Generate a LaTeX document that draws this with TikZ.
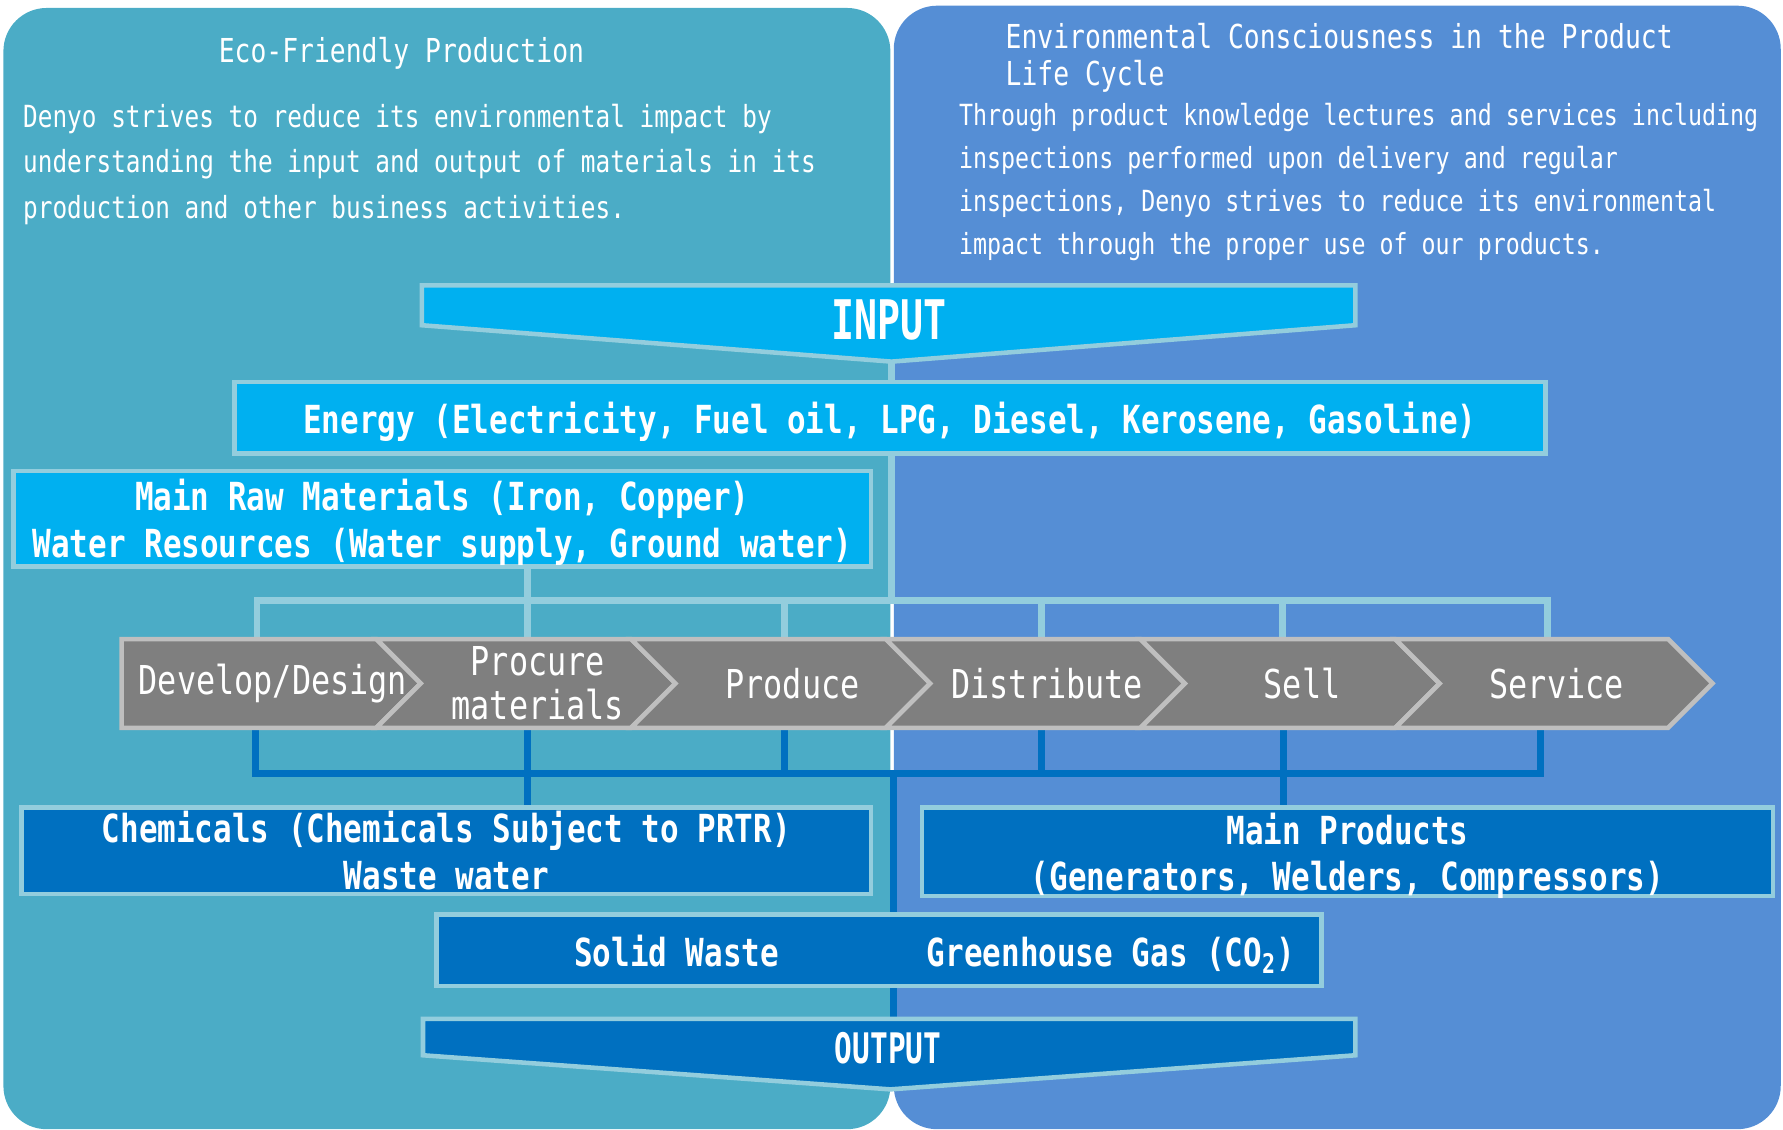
\documentclass[tikz,border=0pt]{standalone}
\usepackage{fontspec}
\newfontfamily\denyofont[FakeStretch=0.8]{DejaVu Sans Mono}
\newfontfamily\tallfont[FakeStretch=0.7]{DejaVu Sans Mono}
\usepackage{xcolor}
\definecolor{ecoteal}{HTML}{4BACC6}
\definecolor{lifeblue}{HTML}{558ED5}
\definecolor{inblue}{HTML}{00B0F0}
\definecolor{outblue}{HTML}{0070C0}
\definecolor{rimblue}{HTML}{93CDDD}
\definecolor{stepgray}{HTML}{7F7F7F}
\definecolor{steprim}{HTML}{BFBFBF}
\pgfdeclarelayer{panel}
\pgfdeclarelayer{link}
\pgfsetlayers{panel,link,main}

\begin{document}
\begin{tikzpicture}[x=0.5pt, y=-0.5pt,
	inbox/.style={draw=rimblue, line width=2pt, fill=inblue, text=white, align=center, inner sep=0pt, text depth=0pt, font=\denyofont\bfseries\fontsize{17}{20.5}\selectfont},
	outbox/.style={inbox, fill=outblue},
	banner/.style={draw=rimblue, line width=2pt, line join=miter},
	stepbox/.style={draw=steprim, line width=2pt, fill=stepgray, line join=miter},
	steplabel/.style={text=white, align=center, inner sep=0pt, font=\denyofont\fontsize{17.5}{19.5}\selectfont},
	boxlabel/.style={text=white, inner sep=0pt, anchor=base, font=\denyofont\bfseries\fontsize{17}{20.5}\selectfont},
	paneltext/.style={text=white, align=left, inner sep=0pt, anchor=north west},
	inlink/.style={draw=rimblue, line width=3pt},
	outlink/.style={draw=outblue, line width=3pt}]
	\useasboundingbox (0,0) rectangle (1568,993);
	
	% two panels
	\begin{pgfonlayer}{panel}
	\fill[ecoteal, rounded corners=19pt] (3,7) rectangle (783,993);
	\fill[lifeblue, rounded corners=19pt] (786,5) rectangle (1566,993);
	\end{pgfonlayer}
	
	\node[text=white, inner sep=0pt, font=\denyofont\fontsize{14.5}{16.5}\selectfont] (ecotitle) at (353,47) {Eco-Friendly Production};
	\node[paneltext, font=\denyofont\fontsize{13.4}{20}\selectfont] (ecobody) at (20,91) {Denyo strives to reduce its environmental impact by\\understanding the input and output of materials in its\\production and other business activities.};
	\node[paneltext, font=\denyofont\fontsize{14.5}{16.5}\selectfont] (lifetitle) at (884,20) {Environmental Consciousness in the Product\\Life Cycle};
	\node[paneltext, font=\denyofont\fontsize{12.8}{19}\selectfont] (lifebody) at (843,90) {Through product knowledge lectures and services including\\inspections performed upon delivery and regular\\inspections, Denyo strives to reduce its environmental\\impact through the proper use of our products.};
	
	\coordinate (intip) at (784,318);
	\coordinate (inbar) at (0,528);
	\coordinate (outbar) at (0,680);
	\coordinate (outtop) at (786,896);
	
	% input side
	\draw[banner, fill=inblue] (371,251) -- (1192,251) -- (1192,286) -- (intip) -- (371,286) -- cycle;
	\node[text=white, inner sep=0pt, font=\tallfont\bfseries\fontsize{24}{24}\selectfont] (input) at (782,281) {INPUT};
	\node[inbox, minimum width=576.5pt, minimum height=31.5pt] (energy) at (782.5,367.5) {Energy (Electricity, Fuel oil, LPG, Diesel, Kerosene, Gasoline)};
	\node[inbox, minimum width=377pt, minimum height=42pt] (raw) at (389,456) {Main Raw Materials (Iron, Copper)\\Water Resources (Water supply, Ground water)};
	
	% value chain
	\foreach \x/\w/\n/\cx/\tx/\bx/\name/\lbl in {
		107/224/0/240/226/225/dev/{Develop/Design},
		331/224/39/473/464/464/proc/{Procure\\materials},
		555/224/39/697/690/690/make/{Produce},
		779/224/39/921/916/916/dist/{Distribute},
		1003/224/39/1145/1128/1129/sell/{Sell},
		1227/240/39/1369/1361/1355/serv/{Service}}
	{
		\draw[stepbox] (\x,562) -- ++(\w,0) -- ++(39,39) -- ++(-39,39) -- ++(-\w,0) -- ++(\n,-39) -- cycle;
		\node[steplabel] (\name) at (\cx,601) {\lbl};
		\coordinate (\name-t) at (\tx,562);
		\coordinate (\name-b) at (\bx,642);
	}
	
	% output side
	\node[outbox, minimum width=373.5pt, minimum height=38pt] (chem) at (392.5,748) {Chemicals (Chemicals Subject to PRTR)\\Waste water};
	\node[outbox, minimum width=374pt, minimum height=39pt] (prod) at (1185,749) {Main Products\\(Generators, Welders, Compressors)};
	\node[outbox, minimum width=389pt, minimum height=31.5pt] (waste) at (773,835.5) {};
	\node[boxlabel] (solid) at (595,850) {Solid Waste};
	\node[boxlabel] (ghg) at (977,850) {Greenhouse Gas (CO\textsubscript{2})};
	\draw[banner, fill=outblue] (372,896) -- (1192,896) -- (1192,928) -- (783,958) -- (372,928) -- cycle;
	\node[text=white, inner sep=0pt, font=\tallfont\bfseries\fontsize{18.5}{18.5}\selectfont] (output) at (781,922) {OUTPUT};
	
	% connectors
	\begin{pgfonlayer}{link}
	\draw[inlink] (intip) -- (intip |- inbar);
	\draw[inlink] (raw.south -| proc-t) -- (proc-t |- inbar);
	\draw[inlink] (dev-t) -- (dev-t |- inbar) -- (serv-t |- inbar) -- (serv-t);
	\foreach \name in {proc,make,dist,sell}
		\draw[inlink] (\name-t |- inbar) -- (\name-t);
	\draw[outlink] (dev-b) -- (dev-b |- outbar) -- (serv-b |- outbar) -- (serv-b);
	\foreach \name in {proc,make,dist,sell}
		\draw[outlink] (\name-b) -- (\name-b |- outbar);
	\draw[outlink] (proc-b |- outbar) -- (chem.north -| proc-b);
	\draw[outlink] (sell-b |- outbar) -- (prod.north -| sell-b);
	\draw[outlink] (outtop |- outbar) -- (outtop);
	\end{pgfonlayer}
	
\end{tikzpicture}
\end{document}
